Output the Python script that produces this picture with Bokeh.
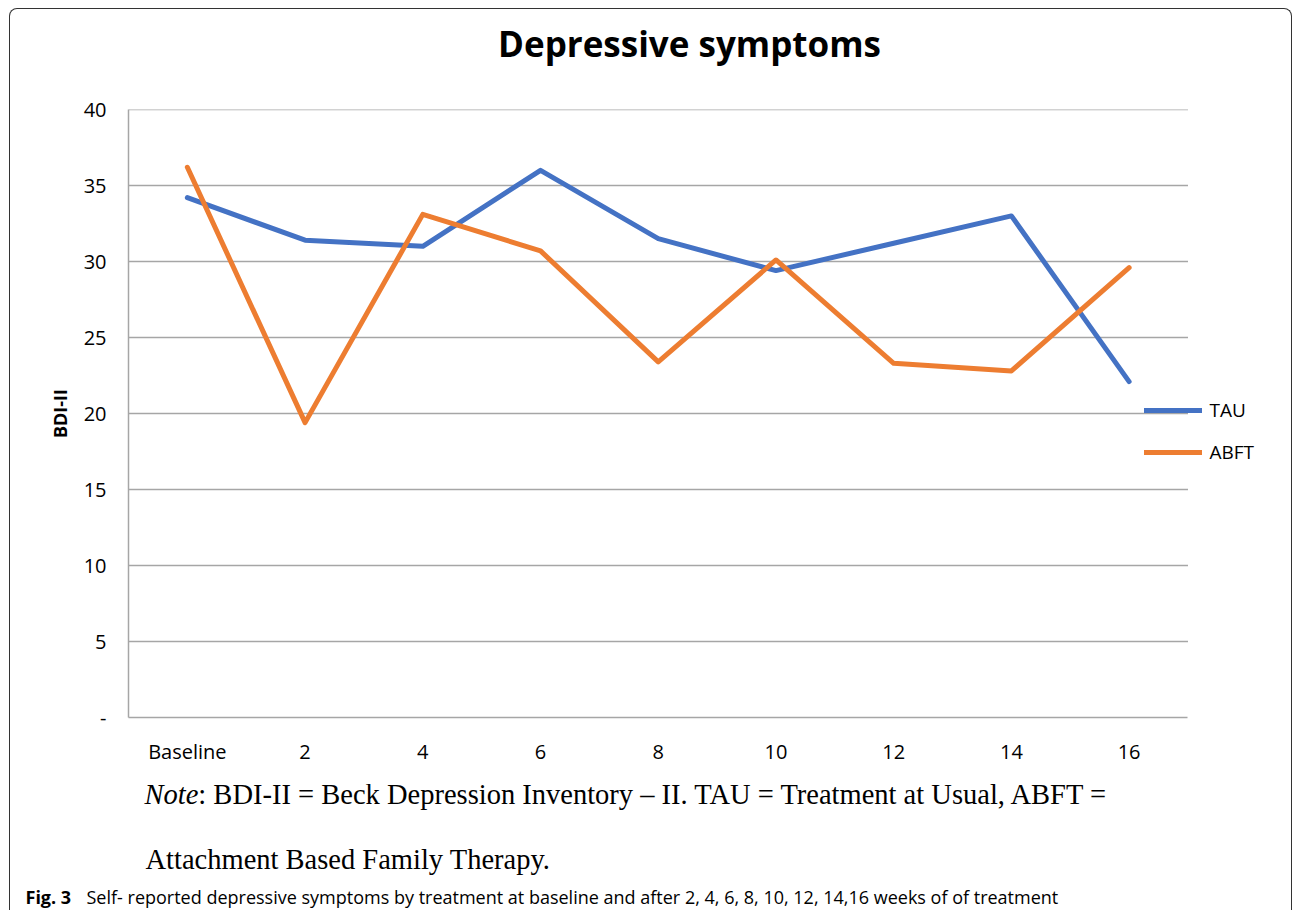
from bokeh.plotting import figure
from bokeh.layouts import column
from bokeh.models import (Range1d, Legend, LegendItem, FixedTicker,
                          ColumnDataSource, Div)
from bokeh.embed import file_html
from bokeh.resources import INLINE

# ---- data ----
categories = ["Baseline", "2", "4", "6", "8", "10", "12", "14", "16"]
tau = [34.2, 31.4, 31.0, 36.0, 31.5, 29.4, 31.2, 33.0, 22.1]
abft = [36.2, 19.4, 33.1, 30.7, 23.4, 30.1, 23.3, 22.8, 29.6]
y_ticks = [0, 5, 10, 15, 20, 25, 30, 35, 40]
y_tick_labels = ["-", "5", "10", "15", "20", "25", "30", "35", "40"]
series_names = ["TAU", "ABFT"]
title_text = "Depressive symptoms"
y_label = "BDI-II"
note_italic = "Note"
note_line1 = ": BDI-II = Beck Depression Inventory \u2013 II. TAU = Treatment at Usual, ABFT ="
note_line2 = "Attachment Based Family Therapy."
caption_bold = "Fig. 3"
caption_text = ("Self- reported depressive symptoms by treatment at baseline and after "
                "2, 4, 6, 8, 10, 12, 14,16 weeks of of treatment")

TAU_COLOR = "#4472C4"
ABFT_COLOR = "#ED7D31"
GRID = "#a6a6a6"
FONT = "Open Sans"
SERIF = "Liberation Serif"

# ---- layout geometry (pixels) ----
W = 1281
H0 = 80          # title strip
H1 = 688         # chart
H2 = 133         # notes / caption strip
LEFT, TOP, BOTTOM = 118, 20, 60
FRAME_W = W - LEFT
PX_X = 117.72    # pixels per category
n = len(categories)
xs = list(range(n))
x_start = -0.5
x_end = x_start + FRAME_W / PX_X


def span(left, top, font, size, content, extra="", center=False):
    tx = "translate(-50%,-50%)" if center else "translateY(-50%)"
    return (f'<span style="position:absolute;left:{left}px;top:{top}px;'
            f'transform:{tx};white-space:nowrap;line-height:1.2;'
            f'font-family:\'{font}\';font-size:{size}px;color:#000;{extra}">'
            f'{content}</span>')


def strip(height, content):
    return (f'<div style="position:relative;width:{W}px;height:{height}px;'
            f'margin:0;padding:0;">{content}</div>')


# ---- title strip ----
title_div = Div(text=strip(H0, span(679.5, 34.5, FONT, 35, title_text,
                                    "font-weight:bold;", center=True)),
                width=W, height=H0, margin=0)

# ---- chart ----
src = ColumnDataSource(dict(x=xs, tau=tau, abft=abft))

p = figure(width=W, height=H1,
           x_range=Range1d(x_start, x_end), y_range=Range1d(y_ticks[0], y_ticks[-1]),
           output_backend="svg", toolbar_location=None,
           min_border_left=LEFT, min_border_right=0,
           min_border_top=TOP, min_border_bottom=BOTTOM)
p.outline_line_color = None
p.xgrid.grid_line_color = None
p.ygrid.grid_line_color = None

p.yaxis.ticker = FixedTicker(ticks=y_ticks)
p.yaxis.major_label_overrides = {t: l for t, l in zip(y_ticks, y_tick_labels)}
p.yaxis.major_tick_line_color = None
p.yaxis.major_tick_out = 0
p.yaxis.major_tick_in = 0
p.yaxis.minor_tick_line_color = None
p.yaxis.axis_line_color = GRID
p.yaxis.axis_line_width = 1.5
p.yaxis.major_label_text_font = FONT
p.yaxis.major_label_text_font_size = "20px"
p.yaxis.major_label_text_color = "black"
p.yaxis.major_label_standoff = 22
p.yaxis.axis_label = y_label
p.yaxis.axis_label_text_font = FONT
p.yaxis.axis_label_text_font_size = "18px"
p.yaxis.axis_label_text_font_style = "bold"
p.yaxis.axis_label_text_color = "black"
p.yaxis.axis_label_standoff = 9

p.xaxis.ticker = FixedTicker(ticks=xs)
p.xaxis.major_label_overrides = {i: c for i, c in zip(xs, categories)}
p.xaxis.bounds = (-0.5, n - 0.5)
p.xaxis.major_tick_line_color = None
p.xaxis.major_tick_out = 0
p.xaxis.major_tick_in = 0
p.xaxis.minor_tick_line_color = None
p.xaxis.axis_line_color = GRID
p.xaxis.axis_line_width = 1.5
p.xaxis.major_label_text_font = FONT
p.xaxis.major_label_text_font_size = "20px"
p.xaxis.major_label_text_color = "black"
p.xaxis.major_label_standoff = 20

# horizontal gridlines limited to the category span
grid_y = y_ticks[1:]
p.segment(x0=[-0.5] * len(grid_y), x1=[n - 0.5] * len(grid_y),
          y0=grid_y, y1=grid_y, line_color=GRID, line_width=1.5)

r_tau = p.line(x="x", y="tau", source=src, line_width=5, line_color=TAU_COLOR,
               line_cap="round", line_join="round")
r_abft = p.line(x="x", y="abft", source=src, line_width=5, line_color=ABFT_COLOR,
                line_cap="round", line_join="round")

legend = Legend(items=[LegendItem(label=series_names[0], renderers=[r_tau]),
                       LegendItem(label=series_names[1], renderers=[r_abft])],
                location=(1015.5, 252.5), glyph_width=58, glyph_height=20,
                label_height=20, spacing=16, padding=0, margin=0,
                border_line_color=None, background_fill_alpha=0,
                label_text_font=FONT, label_text_font_size="19px",
                label_text_color="black", label_standoff=8)
p.add_layout(legend)

# ---- notes / caption strip ----
NOTE_SIZE = 28.5
notes = (span(134.5, 17.5, SERIF, NOTE_SIZE, f"<i>{note_italic}</i>{note_line1}")
         + span(135.5, 82.5, SERIF, NOTE_SIZE, note_line2)
         + span(15.5, 120.5, FONT, 18, caption_bold, "font-weight:bold;")
         + span(76.5, 120.5, FONT, 18, caption_text))
note_div = Div(text=strip(H2, notes), width=W, height=H2, margin=0)

layout = column(title_div, p, note_div, spacing=0)
layout.styles = {"margin-left": "9px", "margin-top": "8px",
                 "border-top": "1.5px solid #333", "border-left": "1.5px solid #333",
                 "border-right": "1.5px solid #333",
                 "border-top-left-radius": "8px", "border-top-right-radius": "8px"}

open("out.html", "w").write(file_html(layout, INLINE))
